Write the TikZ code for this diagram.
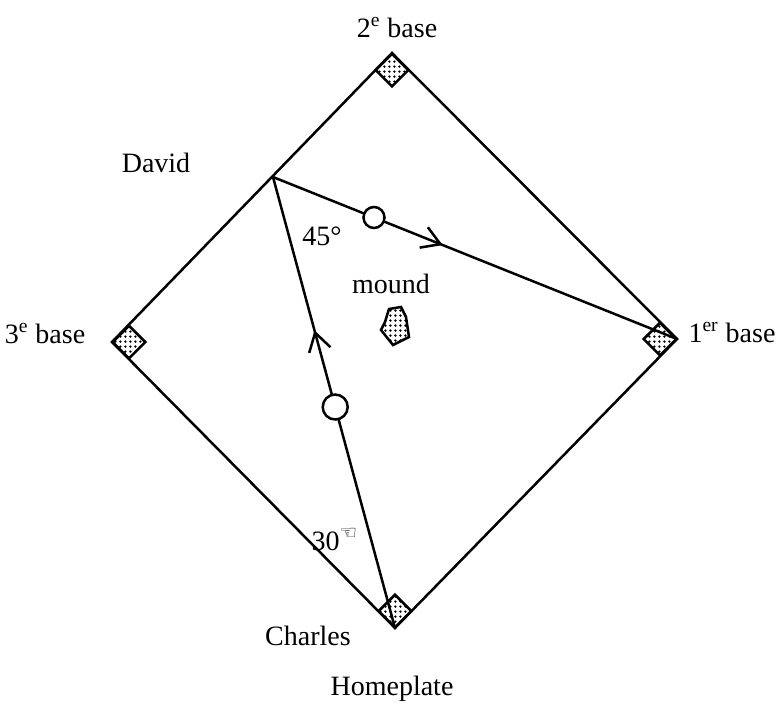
\documentclass[tikz,border=0pt]{standalone}
\usepackage{fontspec}
\setmainfont{Liberation Serif}
\newfontfamily\handfont{DejaVu Sans}
\usepackage{tikz}
\usetikzlibrary{
  patterns.meta,
  arrows.meta,
  decorations.markings
}
\definecolor{FieldBlack}{RGB}{0, 0, 0}
\pgfdeclarepattern{
  name=basedots,
  type=uncolored,
  bottom left={\pgfpoint{0pt}{0pt}},
  top right={\pgfpoint{2.7pt}{2.7pt}},
  tile size={\pgfpoint{2.7pt}{2.7pt}},
  code={\pgfpathcircle{\pgfpoint{1.35pt}{1.35pt}}{0.7pt}\pgfusepath{fill}}
}
\tikzset{
    every node/.append style={font=\fontsize{14}{16}\selectfont, text=FieldBlack},
    fieldline/.style={draw=FieldBlack, line width=1.25pt, line join=miter},
    basebag/.style={rectangle, draw=FieldBlack, line width=1.25pt, rotate=45,
        minimum size=11.5pt, inner sep=0pt, preaction={fill=white}, pattern=basedots},
    runner/.style={circle, draw=FieldBlack, line width=1.25pt, fill=white,
        minimum size=#1, inner sep=0pt},
    midarrow/.style={postaction={decorate}, decoration={markings,
        mark=at position #1 with {\arrow{Straight Barb[length=9pt, width=11pt, line width=1.25pt]}}}}
}

\begin{document}
\begin{tikzpicture}[x=0.5pt, y=-0.5pt]
    \useasboundingbox (0,0) rectangle (783,709);

    % corners of the diamond
    \coordinate (home) at (395,628);
    \coordinate (first) at (677,339);
    \coordinate (second) at (392,53);
    \coordinate (third) at (112,342);
    \coordinate (david) at (273,177);

    \draw[fieldline] (home) -- (first) -- (second) -- (third) -- cycle;

    % bases
    \node[basebag] (secondbag) at (392,70) {};
    \node[basebag] (thirdbag) at (129,342) {};
    \node[basebag] (firstbag) at (660,339) {};
    \node[basebag] (homebag) at (395,611) {};

    % pitcher's mound
    \draw[fieldline, preaction={fill=white}, pattern=basedots]
        (389,309) -- (401,307) -- (406,317) -- (409,337) -- (393,345) -- (381,330) -- (385,322) -- cycle;

    % runs
    \draw[fieldline, midarrow=0.66] (home) -- node[runner=12.5pt, pos=0.49] (ballone) {} (david);
    \draw[fieldline, midarrow=0.42] (david) -- node[runner=10.5pt, pos=0.25] (balltwo) {} (first);

    % labels
    \node[anchor=base] (secondlbl) at (397,37) {2\textsuperscript{e} base};
    \node[anchor=base] (thirdlbl) at (45,343) {3\textsuperscript{e} base};
    \node[anchor=base] (firstlbl) at (732,342) {1\textsuperscript{er} base};
    \node[anchor=base] (davidlbl) at (156,172) {David};
    \node[anchor=base] (anglelbl) at (322,245) {45\textdegree};
    \node[anchor=base] (moundlbl) at (391,293) {mound};
    \node[anchor=base] (throwlbl) at (335,550) {30\textsuperscript{\handfont ☜}};
    \node[anchor=base] (charleslbl) at (308,645) {Charles};
    \node[anchor=base] (homelbl) at (392,695) {Homeplate};
\end{tikzpicture}
\end{document}
